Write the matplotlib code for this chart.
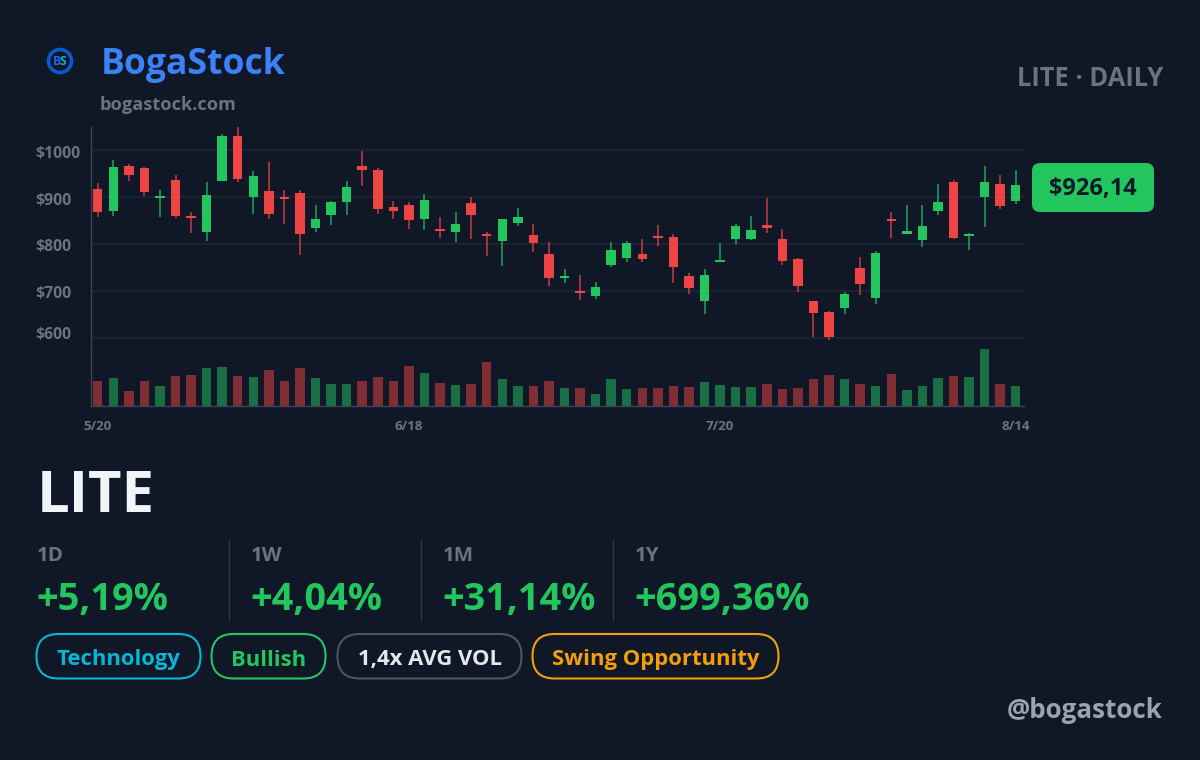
import matplotlib
matplotlib.use("Agg")
import matplotlib.pyplot as plt
from matplotlib.patches import FancyBboxPatch, Circle
from matplotlib.transforms import ScaledTranslation

ticker = "LITE"
opens = [917,870,966,963,898,937,860,825,935,1030,900,913,899,909,834,862,889,966,958,879,
         882,852,832,825,887,822,806,844,819,778,727,699,689,754,769,778,817,815,731,678,
         761,811,810,840,810,768,677,655,662,748,685,853,822,808,870,931,816,899,928,892]
highs = [929,978,971,964,915,948,869,932,1035,1050,956,974,914,914,884,892,934,998,961,892,
         889,906,857,867,899,825,852,876,842,804,747,733,719,805,807,810,840,822,737,747,
         802,843,859,897,831,770,679,656,698,772,785,867,883,882,928,936,823,967,947,958]
lows = [857,859,935,903,858,855,823,807,934,932,864,853,842,776,826,840,862,924,864,854,
        832,829,813,803,810,774,753,838,783,710,716,680,683,751,761,761,796,716,693,650,
        761,800,808,823,755,698,602,595,650,691,671,813,822,793,862,810,787,836,875,885]
closes = [868,965,947,911,902,860,855,905,1030,938,945,864,895,822,853,889,921,958,875,870,
          850,894,828,842,862,817,852,858,801,728,731,695,707,786,802,768,813,751,706,734,
          766,838,830,833,763,711,652,602,693,714,780,849,827,838,890,813,820,933,880,926]
volumes = [75,83,44,75,61,89,92,115,118,89,87,109,74,115,83,67,65,76,88,74,
           121,100,69,64,65,132,80,61,60,75,55,54,37,80,52,53,54,60,57,71,
           64,58,56,65,52,54,81,92,81,65,60,96,49,59,83,89,86,170,66,61]
x_ticks = [0, 20, 40, 59]
x_labels = ["5/20", "6/18", "7/20", "8/14"]
y_ticks = [600, 700, 800, 900, 1000]
y_labels = ["$600", "$700", "$800", "$900", "$1000"]
last_price = "$926,14"
stat_names = ["1D", "1W", "1M", "1Y"]
stat_values = ["+5,19%", "+4,04%", "+31,14%", "+699,36%"]

BG = "#101828"
UP = "#22c55e"
DOWN = "#ef4444"
GREY = "#6b7280"
FONT = "Open Sans"
W, H = 1200, 760

plt.rcParams["font.family"] = [FONT, "DejaVu Sans"]
plt.rcParams["font.weight"] = "bold"
fig = plt.figure(figsize=(12, 7.6), dpi=100, facecolor=BG)

def axpx(l, t, r, b):
    return fig.add_axes([l / W, 1 - b / H, (r - l) / W, (b - t) / H])

def txt(x, y, s, size_px, color, ha="left", va="center", **kw):
    return fig.text(x / W, 1 - y / H, s, fontsize=size_px * 0.72, color=color,
                    ha=ha, va=va, fontweight="bold", **kw)

n = len(opens)
xs = list(range(n))
colors = [UP if c >= o else DOWN for o, c in zip(opens, closes)]
x0, x1 = -0.463, 59.53

# price panel
ax = axpx(90.5, 127, 1024, 345)
ax.set_facecolor("none")
ax.set_xlim(x0, x1)
ax.set_ylim(584, 1049.5)
ax.set_yticks(y_ticks, y_labels, ha="left")
ax.set_xticks([])
ax.tick_params(axis="y", length=0, pad=39.6, labelsize=11.3, labelcolor=GREY)
ax.grid(axis="y", color="#1e2637", lw=1.1)
ax.set_axisbelow(True)
for s in ["top", "right", "bottom"]:
    ax.spines[s].set_visible(False)
ax.spines["left"].set_color("#3d4454")
ax.spines["left"].set_linewidth(1)
ax.vlines(xs, lows, highs, colors=colors, lw=1.1, alpha=0.82, zorder=2)
ax.bar(xs, [abs(c - o) for o, c in zip(opens, closes)],
       bottom=[min(o, c) for o, c in zip(opens, closes)],
       width=0.61, color=colors, lw=0, zorder=3)
labs = ax.get_yticklabels()
for lab, dy in zip(labs, [5, -1.5, -1.5, -1.5, -1.5]):
    lab.set_transform(lab.get_transform() + ScaledTranslation(0, dy / 100, fig.dpi_scale_trans))

# volume panel
vx = axpx(90.5, 345, 1024, 406)
vx.set_facecolor("none")
vx.set_xlim(x0, x1)
vx.set_ylim(0, 183)
vx.bar(xs, volumes, width=0.61, color=colors, alpha=0.5, lw=0)
vx.set_yticks([])
vx.set_xticks(x_ticks, x_labels)
vx.tick_params(axis="x", length=0, pad=10, labelsize=9.6, labelcolor=GREY)
for s in ["top", "right"]:
    vx.spines[s].set_visible(False)
for s in ["left", "bottom"]:
    vx.spines[s].set_color("#3d4454")
    vx.spines[s].set_linewidth(1)

# overlay for decoration in pixel coords
ov = fig.add_axes([0, 0, 1, 1], zorder=-1)
ov.set_xlim(0, W)
ov.set_ylim(H, 0)
ov.axis("off")

def pill(l, t, r, b, rad, edge, face="none", lw=1.5):
    ov.add_patch(FancyBboxPatch((l + rad, t + rad), r - l - 2 * rad, b - t - 2 * rad,
                                boxstyle=f"round,pad={rad},rounding_size={rad}",
                                fc=face, ec=edge, lw=lw))

# logo
ov.add_patch(Circle((60, 61), 11.5, fc="none", ec="#0b57d0", lw=2.6))
txt(60.5, 61.5, "B", 12, "#2563eb", ha="right")
txt(60, 61.5, "S", 12, "#06b6d4", ha="left")

# header
txt(100.5, 65, "BogaStock", 35.5, "#3b82f6")
txt(100, 105, "bogastock.com", 18.2, GREY)
txt(1163, 79, "LITE · DAILY", 25.5, GREY, ha="right")

# price badge
pill(1032, 163, 1154, 212, 8, UP, UP, lw=0)
txt(1093, 189.5, last_price, 23.5, BG, ha="center")

# ticker and stats
txt(37, 497, ticker, 58, "#f1f5f9")
for xp, name, val in zip([36.5, 250.5, 442.5, 634.5], stat_names, stat_values):
    txt(xp, 556, name, 20.5, GREY)
    txt(xp - 0.5, 600, val, 38, UP)
for xp in [228.5, 420.5, 612.5]:
    ov.plot([xp, xp], [540, 620], color="#2f3748", lw=1)

# pills
pills = [(36, 201, "Technology", "#06b6d4", "#06b6d4"),
         (211, 326, "Bullish", UP, UP),
         (337, 522, "1,4x AVG VOL", "#4b5563", "#e5e7eb"),
         (532, 779, "Swing Opportunity", "#f59e0b", "#f59e0b")]
for l, r, s, ec, tc in pills:
    pill(l + 0.5, 634, r - 0.5, 678.5, 22, ec)
    txt((l + r) / 2, 659 if s != "Bullish" else 660, s, 22, tc, ha="center")

txt(1163, 711, "@bogastock", 26, "#9ca3af", ha="right")

fig.savefig("out.png", dpi=100, facecolor=BG)
